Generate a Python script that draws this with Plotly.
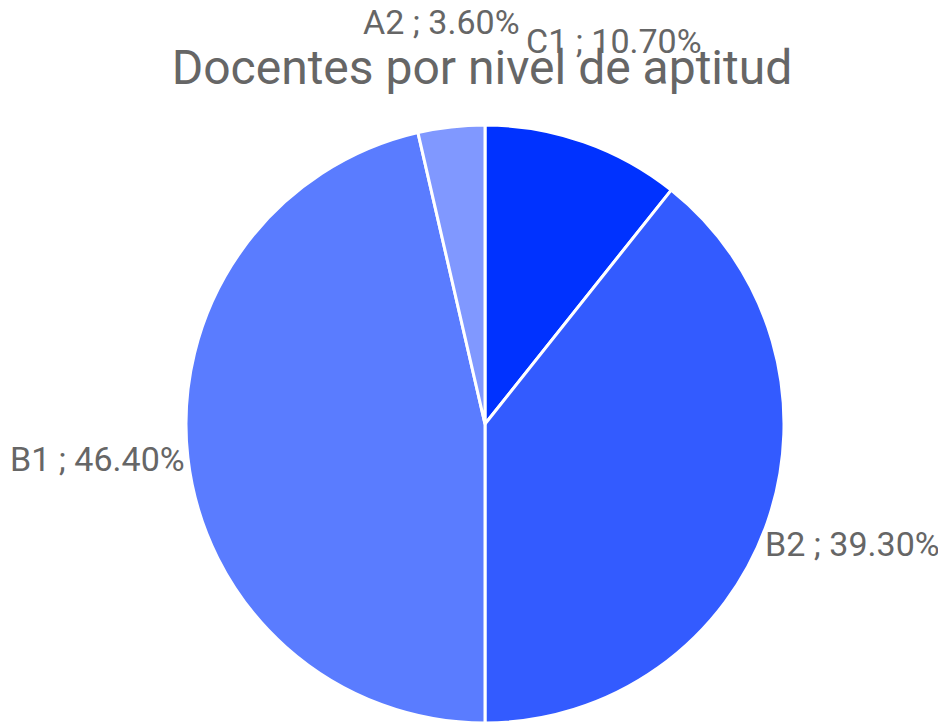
import math
import plotly.graph_objects as go

labels = ["C1", "B2", "B1", "A2"]
values = [10.7, 39.3, 46.4, 3.6]
colors = ["#0032FF", "#335BFF", "#5A7CFF", "#8098FF"]
title_text = "Docentes por nivel de aptitud"

# page body has an 8px margin, so the figure is sized to fit the window
W_FIG, H_FIG = 938, 717
M = dict(l=16, r=0, t=117, b=2)
plot_w = W_FIG - M["l"] - M["r"]
plot_h = H_FIG - M["t"] - M["b"]
radius_px = min(plot_w, plot_h) / 2
label_kx = 1.303
label_ky = 1.32

fig = go.Figure(go.Pie(
    labels=labels,
    values=values,
    sort=False,
    direction="clockwise",
    rotation=0,
    marker=dict(colors=colors, line=dict(color="white", width=3)),
    textinfo="none",
    showlegend=False,
    hoverinfo="label+percent",
))

# Labels placed at each slice's mid-angle, outside the pie
total = sum(values)
annotations = []
cum = 0.0
for lab, v in zip(labels, values):
    mid = (cum + v / 2) / total * 2 * math.pi
    cum += v
    dx = label_kx * radius_px * math.sin(mid)
    dy = label_ky * radius_px * math.cos(mid)
    annotations.append(dict(
        x=0.5 + dx / plot_w, y=0.5 + dy / plot_h,
        xref="paper", yref="paper",
        text=f"{lab} ; {v / total * 100:.2f}%",
        showarrow=False, xanchor="center", yanchor="middle", yshift=10,
        font=dict(family="Roboto", size=34, color="#666666"),
    ))

fig.update_layout(
    width=W_FIG, height=H_FIG,
    margin=M,
    paper_bgcolor="white",
    plot_bgcolor="white",
    font=dict(family="Roboto", color="#666666"),
    annotations=annotations,
    title=dict(text=title_text, x=0.5053, xref="container", xanchor="center",
               y=0.918, yref="container", yanchor="middle",
               font=dict(family="Roboto", size=48, color="#666666")),
)

fig.write_html("out.html")
